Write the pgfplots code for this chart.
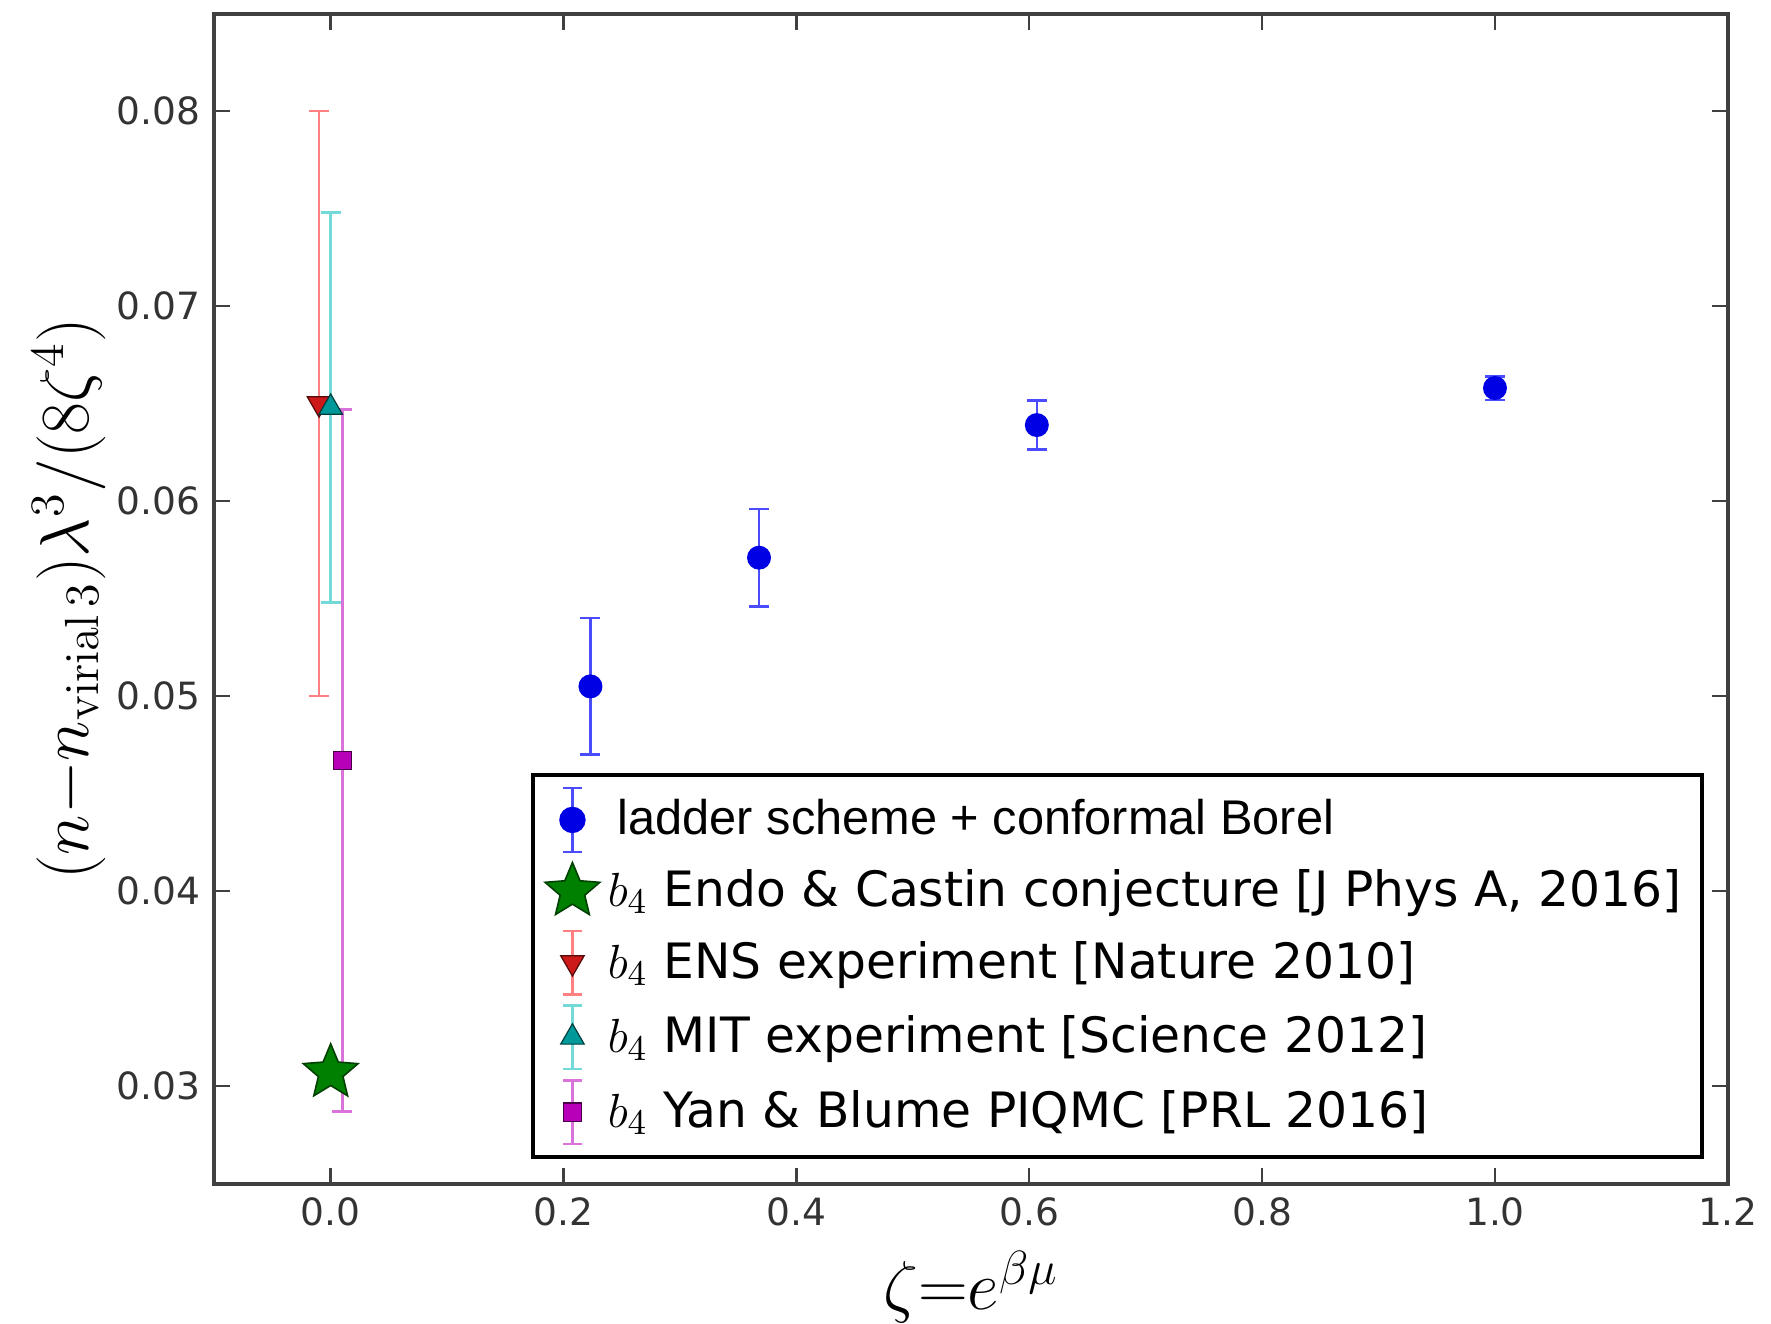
\documentclass[border=0pt]{standalone}
\usepackage{pgfplots}
\pgfplotsset{compat=1.18}
\usepackage[no-math]{fontspec}
\setmainfont{DejaVu Sans}
\newfontfamily\arialfont{Liberation Sans}
\definecolor{ensm}{rgb}{0.80,0.10,0.10}
\definecolor{ense}{rgb}{1.00,0.50,0.50}
\definecolor{mitm}{rgb}{0.00,0.60,0.60}
\definecolor{mite}{rgb}{0.45,0.85,0.85}
\definecolor{yanm}{rgb}{0.72,0.00,0.72}
\definecolor{yane}{rgb}{0.85,0.45,0.85}
\definecolor{ladm}{rgb}{0.00,0.00,0.90}
\definecolor{lade}{rgb}{0.30,0.30,1.00}
\pgfdeclareplotmark{fstar}{%
  \pgfpathmoveto{\pgfpointpolar{90}{\pgfplotmarksize}}%
  \pgfpathlineto{\pgfpointpolar{126}{0.45\pgfplotmarksize}}%
  \pgfpathlineto{\pgfpointpolar{162}{\pgfplotmarksize}}%
  \pgfpathlineto{\pgfpointpolar{198}{0.45\pgfplotmarksize}}%
  \pgfpathlineto{\pgfpointpolar{234}{\pgfplotmarksize}}%
  \pgfpathlineto{\pgfpointpolar{270}{0.45\pgfplotmarksize}}%
  \pgfpathlineto{\pgfpointpolar{306}{\pgfplotmarksize}}%
  \pgfpathlineto{\pgfpointpolar{342}{0.45\pgfplotmarksize}}%
  \pgfpathlineto{\pgfpointpolar{18}{\pgfplotmarksize}}%
  \pgfpathlineto{\pgfpointpolar{54}{0.45\pgfplotmarksize}}%
  \pgfpathclose
  \pgfusepathqfillstroke}
\pgfplotsset{
  mleg/.style={legend image code/.code={
    \draw[mark repeat=2,mark phase=2,##1] plot coordinates {(0cm,0cm)(0.14cm,0cm)(0.35cm,0cm)};}},
  ebleg/.style={legend image code/.code={
    \draw[#1,line width=0.6pt] (0.14cm,-0.28cm)--(0.14cm,0.28cm)
        (0.06cm,-0.28cm)--(0.22cm,-0.28cm) (0.06cm,0.28cm)--(0.22cm,0.28cm);
    \draw[mark repeat=2,mark phase=2,##1] plot coordinates {(0cm,0cm)(0.14cm,0cm)(0.35cm,0cm)};}},
  eb/.style={error bars/.cd, y dir=both, y explicit,
    error bar style={color=#1, line width=0.6pt},
    error mark options={rotate=90, mark size=2.5pt, line width=0.6pt, color=#1}}
}
\begin{document}
\begin{tikzpicture}
\begin{axis}[
  scale only axis, width=379pt, height=293pt,
  xmin=-0.1, xmax=1.2, ymin=0.025, ymax=0.085,
  xtick={0,0.2,0.4,0.6,0.8,1.0,1.2},
  ytick={0.03,0.04,0.05,0.06,0.07,0.08},
  scaled y ticks=false, scaled x ticks=false,
  xticklabel style={/pgf/number format/.cd, fixed, fixed zerofill, precision=1},
  yticklabel style={/pgf/number format/.cd, fixed, fixed zerofill, precision=2},
  /pgf/number format/assume math mode=true,
  tick label style={font=\fontsize{9.4}{10}\selectfont, text=black!80},
  tick align=inside, tick pos=both, major tick length=4pt,
  axis line style={line width=1pt, black!75},
  every tick/.style={black!75, line width=0.6pt},
  xlabel={$\zeta{=}e^{\beta\mu}$},
  every axis x label/.style={at={(rel axis cs:0.5,0)}, yshift=-26pt, anchor=center,
    inner sep=0pt, font=\fontsize{16.5}{19}\selectfont},
  ylabel={$(n{-}n_{\mathrm{virial}\,3})\lambda^3/(8\zeta^4)$},
  every axis y label/.style={at={(rel axis cs:0,0.5)}, xshift=-36.3pt, rotate=90,
    anchor=center, inner sep=0pt, font=\fontsize{17}{20}\selectfont},
  legend style={at={(rel axis cs:0.984,0.021)}, anchor=south east, draw=black,
    line width=1pt, font=\fontsize{12.2}{14}\selectfont, row sep=2.2pt,
    inner sep=3pt, cells={anchor=west}},
]
\addplot[ebleg={lade}, only marks, mark=*, mark size=2.8pt, color=ladm, eb=lade]
  coordinates {
  (0.2231,0.0505) +- (0,0.0035)
  (0.3679,0.0571) +- (0,0.0025)
  (0.6065,0.0639) +- (0,0.00125)
  (1.0000,0.0658) +- (0,0.0006)
  };
\addlegendentry{\hspace*{2.5pt}{\arialfont ladder scheme + conformal Borel}}
\addplot[mleg, only marks, mark=fstar, mark size=7.2pt, mark options={fill=green!50!black, line width=0.4pt, draw=green!25!black}]
  coordinates {(0.0,0.0307)};
\addlegendentry{$b_4$ Endo \& Castin conjecture [J Phys A, 2016]}
\addplot[ebleg={ense}, only marks, mark=triangle*, mark size=3.4pt, mark options={rotate=180, fill=ensm, draw=black!60!ensm, line width=0.3pt}, eb=ense]
  coordinates {(-0.01,0.0650) +- (0,0.0150)};
\addlegendentry{$b_4$ ENS experiment [Nature 2010]}
\addplot[ebleg={mite}, only marks, mark=triangle*, mark size=3.4pt, mark options={fill=mitm, draw=black!60!mitm, line width=0.3pt}, eb=mite]
  coordinates {(0.0,0.0648) +- (0,0.0100)};
\addlegendentry{$b_4$ MIT experiment [Science 2012]}
\addplot[ebleg={yane}, only marks, mark=square*, mark size=2.3pt, mark options={fill=yanm, draw=black!60!yanm, line width=0.3pt}, eb=yane]
  coordinates {(0.01,0.0467) +- (0,0.0180)};
\addlegendentry{$b_4$ Yan \& Blume PIQMC [PRL 2016]}
\end{axis}
\path (current axis.north east) ++(10.25pt,3.4pt) coordinate (tr);
\path (current axis.south west) ++(-53.65pt,-35pt) coordinate (bl);
\path (tr) (bl);
\end{tikzpicture}
\end{document}
